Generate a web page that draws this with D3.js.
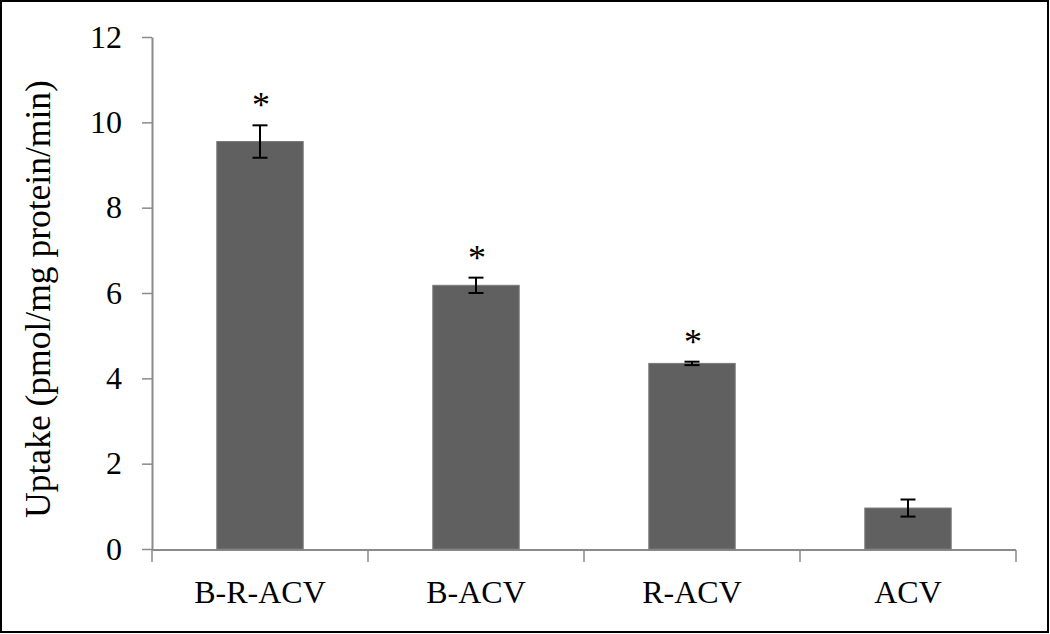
<!DOCTYPE html>
<html><head><meta charset="utf-8">
<script src="https://cdn.jsdelivr.net/npm/d3@7"></script>
<style>body{margin:0;background:#fff}svg{display:block}</style>
</head><body>
<script>
const categories = ["B-R-ACV","B-ACV","R-ACV","ACV"];
const values = [9.55, 6.18, 4.35, 0.96];
const errors = [0.38, 0.18, 0.04, 0.2];
const significant = [true, true, true, false];
const yTicks = [0,2,4,6,8,10,12];

const W=1050,H=634;
const svg=d3.select("body").append("svg").attr("width",W).attr("height",H);
svg.append("rect").attr("x",1).attr("y",1).attr("width",W-3).attr("height",H-3)
  .attr("fill","#fff").attr("stroke","#000").attr("stroke-width",2);

const m={left:152,right:1016,top:37,bottom:549};
const x=d3.scaleBand().domain(categories).range([m.left,m.right]).paddingInner(0.6).paddingOuter(0.3);
const xOuter=d3.scaleBand().domain(categories).range([m.left,m.right]);
const y=d3.scaleLinear().domain([0,12]).range([m.bottom,m.top]);
const font="'Liberation Serif','Times New Roman',serif";
const axisColor="#8a8a8a";

// y axis
const ya=svg.append("g").attr("transform",`translate(${m.left},0)`)
  .call(d3.axisLeft(y).tickValues(yTicks).tickSize(10).tickPadding(20).tickSizeOuter(0));
ya.select(".domain").attr("stroke",axisColor).attr("stroke-width",2);
ya.selectAll(".tick line").attr("stroke",axisColor).attr("stroke-width",1.5);
ya.selectAll("text").attr("font-family",font).attr("font-size",32).attr("fill","#000");

// x axis
const xa=svg.append("g").attr("transform",`translate(0,${m.bottom+1})`);
xa.append("line").attr("x1",m.left).attr("x2",m.right).attr("stroke",axisColor).attr("stroke-width",2);
const bounds=categories.map(c=>xOuter(c)).concat([m.right]);
xa.selectAll(".xt").data(bounds).enter().append("line")
  .attr("x1",d=>d).attr("x2",d=>d).attr("y1",0).attr("y2",12)
  .attr("stroke",axisColor).attr("stroke-width",1.5);
xa.selectAll(".xl").data(categories).enter().append("text")
  .attr("x",d=>xOuter(d)+xOuter.bandwidth()/2).attr("y",53)
  .attr("text-anchor","middle").attr("font-family",font).attr("font-size",32).text(d=>d);

// bars
svg.selectAll(".bar").data(categories).enter().append("rect")
  .attr("x",d=>x(d)).attr("width",x.bandwidth())
  .attr("y",(d,i)=>y(values[i])).attr("height",(d,i)=>y(0)-y(values[i]))
  .attr("fill","#606060").attr("stroke","#7a7a7a").attr("stroke-width",1);

// error bars
const eb=svg.selectAll(".eb").data(categories).enter().append("g");
eb.append("line").attr("x1",d=>x(d)+x.bandwidth()/2).attr("x2",d=>x(d)+x.bandwidth()/2)
  .attr("y1",(d,i)=>y(values[i]+errors[i])).attr("y2",(d,i)=>y(values[i]-errors[i]))
  .attr("stroke","#000").attr("stroke-width",2);
[1,-1].forEach(s=>{
  eb.append("line").attr("x1",d=>x(d)+x.bandwidth()/2-7.5).attr("x2",d=>x(d)+x.bandwidth()/2+7.5)
    .attr("y1",(d,i)=>y(values[i]+s*errors[i])).attr("y2",(d,i)=>y(values[i]+s*errors[i]))
    .attr("stroke","#000").attr("stroke-width",2);
});

// stars
svg.selectAll(".star").data(categories.filter((d,i)=>significant[i])).enter().append("text")
  .attr("x",d=>x(d)+x.bandwidth()/2+1)
  .attr("y",d=>{const i=categories.indexOf(d);return y(values[i]+errors[i])-8;})
  .attr("text-anchor","middle").attr("font-family",font).attr("font-size",36).text("*");

// y title
svg.append("text").attr("transform",`translate(50,299) rotate(-90)`)
  .attr("text-anchor","middle").attr("font-family",font).attr("font-size",35.5)
  .text("Uptake (pmol/mg protein/min)");
</script>
</body></html>
